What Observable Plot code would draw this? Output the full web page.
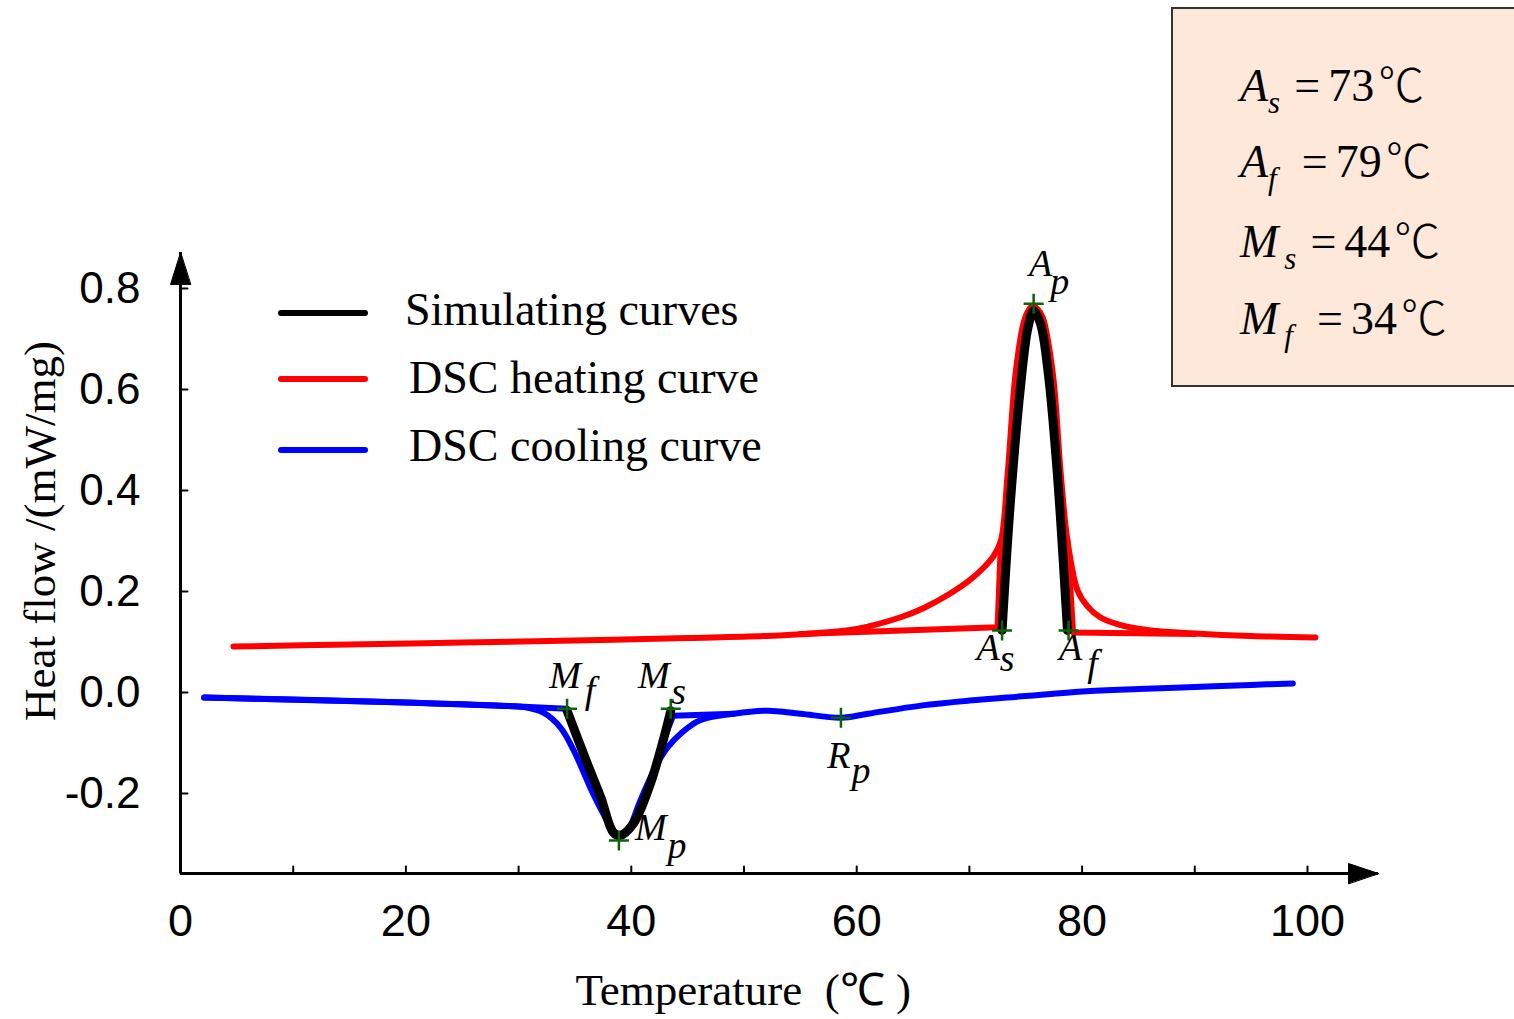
<!DOCTYPE html>
<html><head><meta charset="utf-8">
<script src="https://cdn.jsdelivr.net/npm/d3@7"></script>
<script src="https://cdn.jsdelivr.net/npm/@observablehq/plot@0.6"></script>
<style>
html,body{margin:0;padding:0;background:#fff;overflow:hidden;}
#wrap{position:relative;width:1514px;height:1019px;overflow:hidden;background:#fff;}
#wrap svg{position:absolute;left:0;top:0;}
.sw{position:absolute;left:278px;width:90px;height:6px;border-radius:3px;}
.lt{position:absolute;font-family:"Liberation Serif","Times New Roman",serif;font-size:46px;line-height:46px;white-space:nowrap;color:#000;}
#box{position:absolute;left:1171px;top:7px;width:380px;height:376px;background:#fde8da;border:2px solid #333;}
.eq{position:absolute;left:1240px;font-family:"Liberation Serif","Times New Roman",serif;font-size:46px;line-height:46px;white-space:nowrap;color:#000;}
.eq .v{font-style:italic;}
.eq .s{font-style:italic;font-size:31px;position:relative;top:12px;}
.eq .op{margin-right:8px;}
.eq .u{margin-left:4px;font-family:"Noto Sans CJK SC","DejaVu Sans",sans-serif;font-size:46px;font-weight:300;}
</style></head><body><div id="wrap"></div>
<script>
// DSC heating curve (red)
const heatT = [4.7, 15, 25, 35, 45, 52, 56, 60, 63.9, 66, 68.3, 70, 71.3, 72.2, 72.8, 73.4, 74.1, 74.8, 75.2, 75.6, 76.0, 76.5, 77.4, 78.1, 78.7, 79.6, 80.5, 81.6, 83.5, 86.1, 90, 95, 100.7];
const heatH = [0.091, 0.095, 0.099, 0.103, 0.108, 0.112, 0.117, 0.126, 0.149, 0.168, 0.196, 0.222, 0.248, 0.272, 0.301, 0.434, 0.632, 0.731, 0.755, 0.766, 0.760, 0.743, 0.632, 0.434, 0.301, 0.202, 0.170, 0.149, 0.133, 0.123, 0.117, 0.112, 0.109];
// heating baselines (red)
const heatBaseLeftT = [55, 72.5, 72.8];
const heatBaseLeftH = [0.116, 0.129, 0.300];
const heatBaseRightT = [78.7, 79.2, 90];
const heatBaseRightH = [0.301, 0.119, 0.116];
// DSC cooling curve (blue)
const coolT = [2.1, 10, 20, 28.4, 30.5, 32.2, 33.7, 34.9, 36.6, 38.2, 38.9, 39.8, 40.8, 42.3, 43.2, 44.4, 46.1, 49.1, 52.1, 55.0, 58.6, 61.0, 65.7, 70, 75, 80, 85, 90, 95, 98.7];
const coolH = [-0.010, -0.014, -0.020, -0.026, -0.029, -0.040, -0.069, -0.115, -0.200, -0.267, -0.287, -0.268, -0.214, -0.141, -0.109, -0.081, -0.055, -0.042, -0.036, -0.042, -0.050, -0.042, -0.026, -0.016, -0.007, 0.002, 0.007, 0.011, 0.015, 0.018];
// cooling baselines (blue)
const coolBaseLeftT = [2.1, 20, 28.4, 34.3, 35.3];
const coolBaseLeftH = [-0.010, -0.020, -0.026, -0.032, -0.095];
const coolBaseRightT = [43.2, 43.7, 49.1];
const coolBaseRightH = [-0.075, -0.046, -0.042];
// simulating curves (black)
const simHeatT = [72.9, 73.6, 74.5, 75.2, 75.7, 76.3, 77.0, 77.8, 78.7];
const simHeatH = [0.123, 0.366, 0.598, 0.723, 0.756, 0.731, 0.632, 0.434, 0.123];
const simCoolT = [34.3, 36.1, 37.3, 38.4, 39.0, 40.2, 41.7, 42.9, 43.5];
const simCoolH = [-0.036, -0.141, -0.208, -0.277, -0.283, -0.259, -0.180, -0.089, -0.036];
// characteristic points
const pointNames = ["Ap", "As", "Af", "Mf", "Ms", "Mp", "Rp"];
const pointBase = ["A", "A", "A", "M", "M", "M", "R"];
const pointSub = ["p", "s", "f", "f", "s", "p", "p"];
const pointT = [75.7, 72.9, 78.8, 34.3, 43.5, 38.9, 58.6];
const pointH = [0.770, 0.123, 0.123, -0.032, -0.032, -0.293, -0.050];
// ticks
const xTicks = [0, 10, 20, 30, 40, 50, 60, 70, 80, 90, 100];
const xTickLabels = [0, 20, 40, 60, 80, 100];
const yTicks = [-0.2, 0, 0.2, 0.4, 0.6, 0.8];
// legend + box
const legendNames = ["Simulating curves", "DSC heating curve", "DSC cooling curve"];
const legendColors = ["#000000", "#ff0000", "#0000ff"];
const boxVar = ["A", "A", "M", "M"];
const boxSub = ["s", "f", "s", "f"];
const boxVal = [73, 79, 44, 34];

const xDomain = [0, 106.3], yDomain = [-0.3584, 0.8713];
const zip = (T, H) => T.map((t, i) => ({T: t, H: H[i]}));

// label offsets (px) relative to each characteristic point: [base dx, base dy, sub dx, sub dy]
const labelLayout = {
  Ap: [7, -28, 26, -10], As: [-14, 30, 5, 41], Af: [2, 30, 24, 46],
  Mf: [-2, -21, 23, -6], Ms: [-17, -21, 8, -5], Mp: [32, 0, 58, 18], Rp: [-2, 50, 20, 65]
};
const points = pointNames.map((n, i) => ({name: n, base: pointBase[i], sub: pointSub[i], T: pointT[i], H: pointH[i]}));

const tickShape = {draw(c, l) { c.moveTo(0, 0); c.lineTo(0, -l); }};
const headShape = {draw(c, l) { c.moveTo(0, 0); c.lineTo(-10, l); c.lineTo(10, l); c.closePath(); }};
const serif = "Liberation Serif, Times New Roman, serif";
const sans = "Liberation Sans, Arial, sans-serif";

const labelMarks = points.flatMap(p => {
  const o = labelLayout[p.name];
  const common = {x: "T", y: "H", fontFamily: serif, fontStyle: "italic", fontSize: 38, lineAnchor: "bottom", textAnchor: "middle", fill: "#000"};
  return [
    Plot.text([p], {...common, text: "base", dx: o[0], dy: o[1]}),
    Plot.text([p], {...common, text: "sub", dx: o[2], dy: o[3]})
  ];
});

const plot = Plot.plot({
  width: 1514, height: 1019,
  marginLeft: 180, marginRight: 136, marginTop: 252, marginBottom: 146,
  x: {domain: xDomain, axis: null},
  y: {domain: yDomain, axis: null},
  style: {background: "transparent", overflow: "visible"},
  marks: [
    // axes lines
    Plot.ruleY([yDomain[0]], {stroke: "#000", strokeWidth: 3}),
    Plot.ruleX([0], {stroke: "#000", strokeWidth: 3}),
    Plot.vector([0], {x: () => xDomain[1], y: () => yDomain[0], length: 30, rotate: 90, anchor: "start", shape: headShape, fill: "#000", stroke: "#000", strokeWidth: 1}),
    Plot.vector([0], {x: () => 0, y: () => yDomain[1], length: 32, rotate: 0, anchor: "start", shape: headShape, fill: "#000", stroke: "#000", strokeWidth: 1}),
    Plot.vector(xTicks, {x: d => d, y: () => yDomain[0], length: 7, rotate: 0, anchor: "start", shape: tickShape, stroke: "#000", strokeWidth: 2}),
    Plot.vector(yTicks, {x: () => 0, y: d => d, length: 7, rotate: 90, anchor: "start", shape: tickShape, stroke: "#000", strokeWidth: 2}),
    Plot.text(xTickLabels, {x: d => d, text: d => String(d), frameAnchor: "bottom", lineAnchor: "top", dy: 31, fontSize: 45, fontFamily: sans, fill: "#000"}),
    Plot.text(yTicks, {y: d => d, text: d => d.toFixed(1), frameAnchor: "left", textAnchor: "end", dx: -40, fontSize: 44, fontFamily: sans, fill: "#000"}),
    Plot.text(["Temperature\u00A0\u00A0(℃\u00A0)"], {text: d => d, frameAnchor: "bottom-left", textAnchor: "start", lineAnchor: "top", dy: 100, dx: 395, fontSize: 45, fontFamily: serif, fill: "#000"}),
    Plot.text(["Heat flow /(mW/mg)"], {text: d => d, frameAnchor: "left", textAnchor: "middle", rotate: -90, dx: -140, dy: -32, fontSize: 45, fontFamily: serif, fill: "#000"}),
    // red
    Plot.line(zip(heatBaseLeftT, heatBaseLeftH), {x: "T", y: "H", stroke: "#ff0000", strokeWidth: 6, strokeLinecap: "round"}),
    Plot.line(zip(heatBaseRightT, heatBaseRightH), {x: "T", y: "H", stroke: "#ff0000", strokeWidth: 6, strokeLinecap: "round"}),
    Plot.line(zip(heatT, heatH), {x: "T", y: "H", stroke: "#ff0000", strokeWidth: 6, curve: "catmull-rom", strokeLinecap: "round"}),
    // blue
    Plot.line(zip(coolBaseLeftT, coolBaseLeftH), {x: "T", y: "H", stroke: "#0000ff", strokeWidth: 6, strokeLinecap: "round"}),
    Plot.line(zip(coolBaseRightT, coolBaseRightH), {x: "T", y: "H", stroke: "#0000ff", strokeWidth: 6, strokeLinecap: "round"}),
    Plot.line(zip(coolT, coolH), {x: "T", y: "H", stroke: "#0000ff", strokeWidth: 6, curve: "catmull-rom", strokeLinecap: "round"}),
    // black simulating
    Plot.line(zip(simHeatT, simHeatH), {x: "T", y: "H", stroke: "#000", strokeWidth: 9, curve: "catmull-rom"}),
    Plot.line(zip(simCoolT, simCoolH), {x: "T", y: "H", stroke: "#000", strokeWidth: 9, curve: "catmull-rom"}),
    // markers
    Plot.dot(points, {x: "T", y: "H", symbol: "plus", r: 6.5, stroke: "#0b640b", strokeWidth: 2.5}),
    ...labelMarks
  ]
});

const wrap = document.getElementById("wrap");
wrap.appendChild(plot);

// legend
const swTop = [310, 376, 447];
const txtTop = [287, 355, 423];
const txtLeft = [405, 409, 409];
legendNames.forEach((name, i) => {
  const sw = document.createElement("div");
  sw.className = "sw"; sw.style.top = swTop[i] + "px"; sw.style.background = legendColors[i];
  wrap.appendChild(sw);
  const t = document.createElement("div");
  t.className = "lt"; t.style.top = txtTop[i] + "px"; t.style.left = txtLeft[i] + "px";
  t.textContent = name;
  wrap.appendChild(t);
});

// parameter box
const box = document.createElement("div");
box.id = "box"; wrap.appendChild(box);
const eqTop = [58, 134, 214, 291];
const eqSubGap = [0, 0, 6, 6];
const eqOpGap = [14, 25, 14, 24];
boxVar.forEach((v, i) => {
  const e = document.createElement("div");
  e.className = "eq"; e.style.top = eqTop[i] + "px";
  e.innerHTML = `<span class="v">${v}</span><span class="s" style="margin-left:${eqSubGap[i]}px">${boxSub[i]}</span><span class="op" style="margin-left:${eqOpGap[i]}px">=</span><span>${boxVal[i]}</span><span class="u">℃</span>`;
  wrap.appendChild(e);
});
</script>
</body></html>
